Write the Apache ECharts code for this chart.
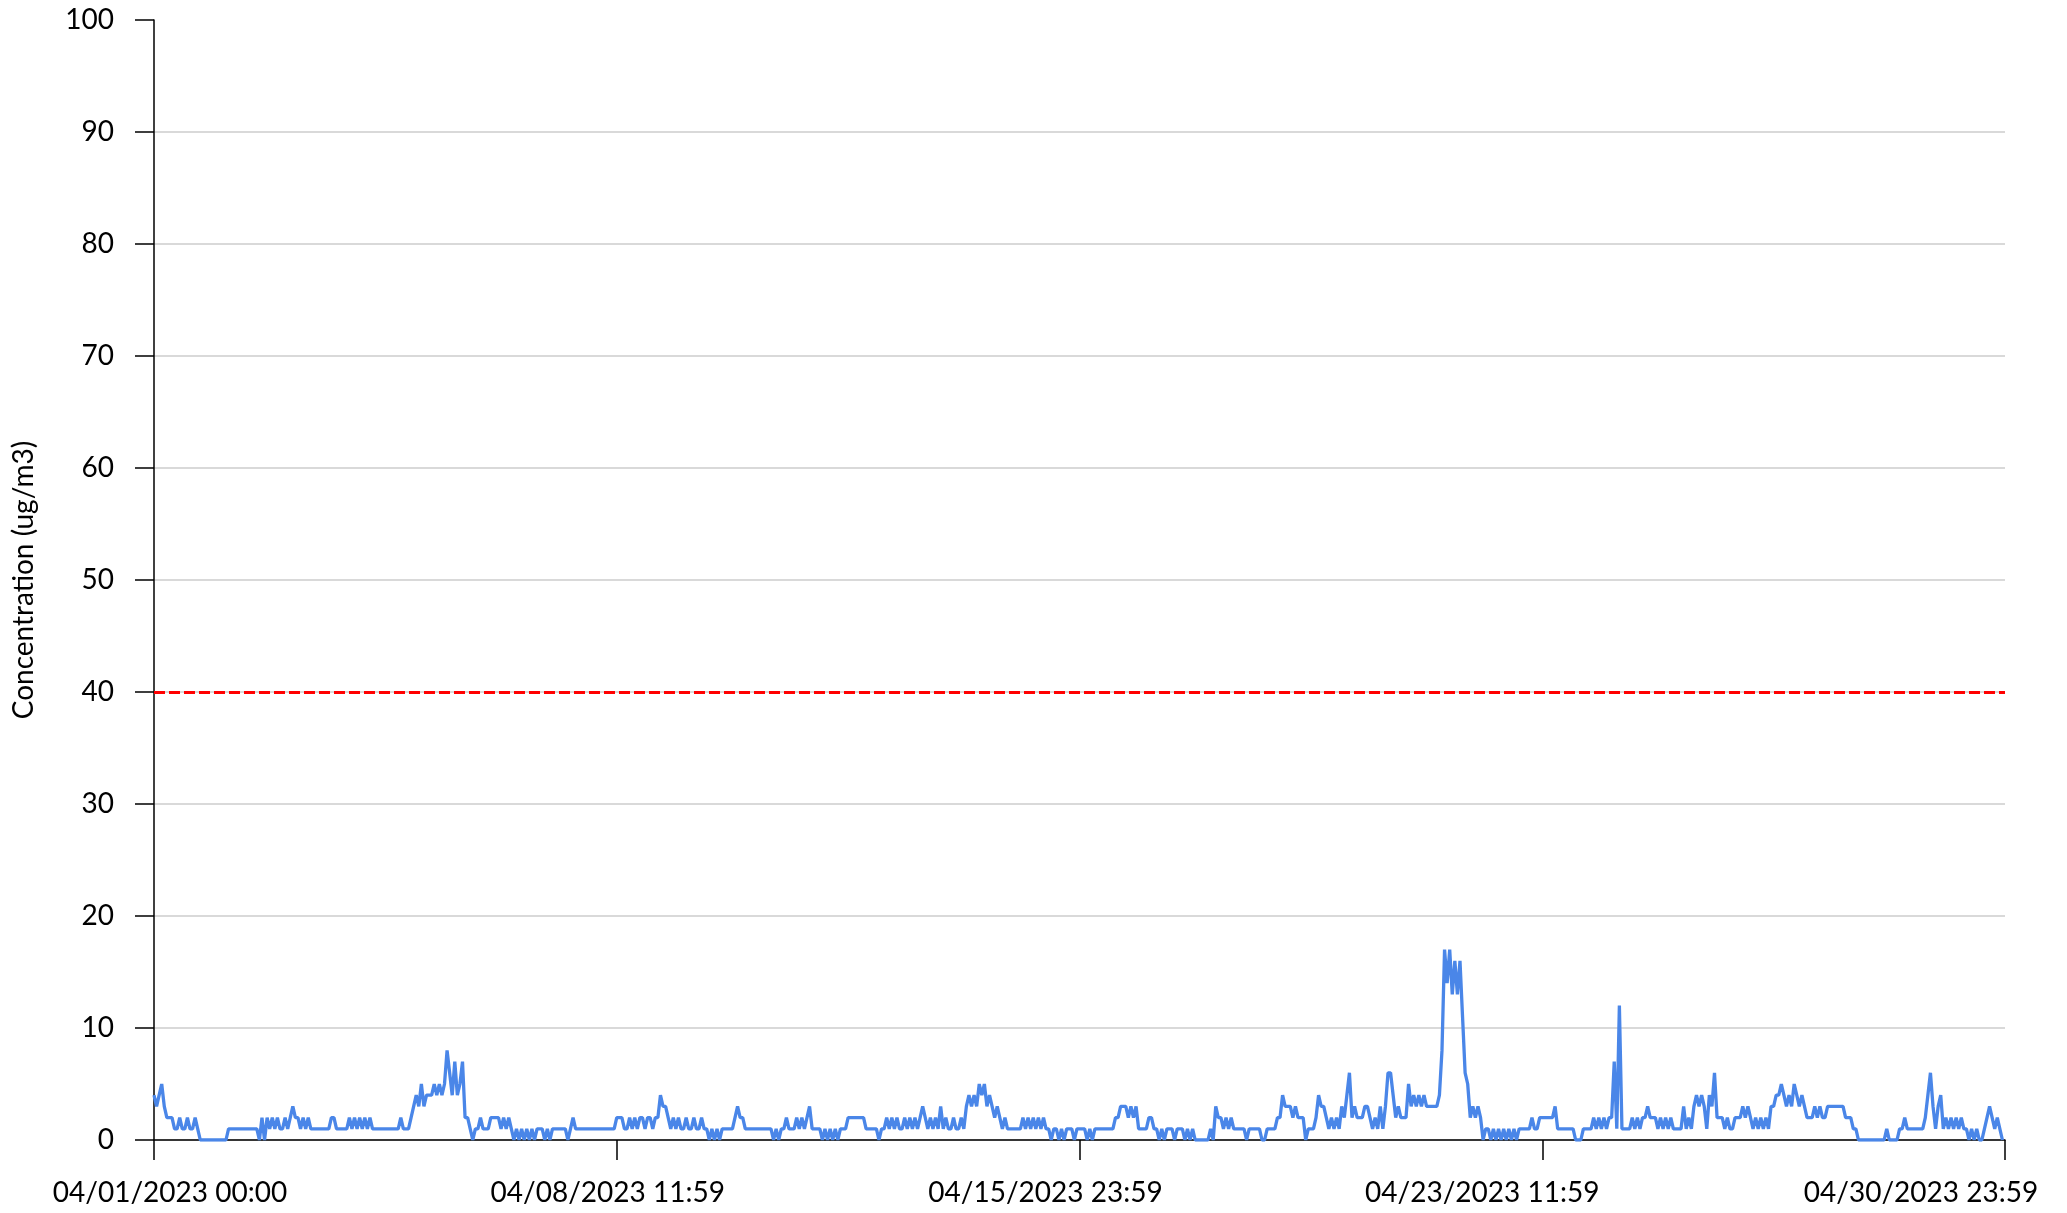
<!DOCTYPE html>
<html>
<head>
<meta charset="utf-8">
<script src="https://cdn.jsdelivr.net/npm/echarts@6/dist/echarts.min.js"></script>
<style>
html,body{margin:0;padding:0;background:#fff;}
#chart{width:2067px;height:1213px;}
</style>
</head>
<body>
<div id="chart"></div>
<script>
// Hourly concentration values, April 2023 (5-day blocks, 120 hours each)
const apr01to05 = [4,3,4,5,3,2,2,2,1,1,2,1,1,2,1,1,2,1,0,0,0,0,0,0,0,0,0,0,0,1,1,1,1,1,1,1,1,1,1,1,1,0,2,0,2,1,2,1,2,1,1,2,1,2,3,2,2,1,2,1,2,1,1,1,1,1,1,1,1,2,2,1,1,1,1,1,2,1,2,1,2,1,2,1,2,1,1,1,1,1,1,1,1,1,1,1,2,1,1,1,2,3,4,3,5,3,4,4,4,5,4,5,4,5,8,6,4,7,4,5];
const apr06to10 = [7,2,2,1,0,1,1,2,1,1,1,2,2,2,2,1,2,1,2,1,0,1,0,1,0,1,0,1,0,1,1,1,0,1,0,1,1,1,1,1,1,0,1,2,1,1,1,1,1,1,1,1,1,1,1,1,1,1,1,1,2,2,2,1,1,2,1,2,1,2,2,1,2,2,1,2,2,4,3,3,2,1,2,1,2,1,1,2,1,1,2,1,1,2,1,1,0,1,0,1,0,1,1,1,1,1,2,3,2,2,1,1,1,1,1,1,1,1,1,1];
const apr11to15 = [1,0,1,0,1,1,2,1,1,1,2,1,2,1,2,3,1,1,1,1,0,1,0,1,0,1,0,1,1,1,2,2,2,2,2,2,2,1,1,1,1,1,0,1,1,2,1,2,1,2,1,1,2,1,2,1,2,1,2,3,2,1,2,1,2,1,3,1,2,1,1,2,1,1,2,1,3,4,3,4,3,5,4,5,3,4,3,2,3,2,1,2,1,1,1,1,1,1,2,1,2,1,2,1,2,1,2,1,1,0,1,1,0,1,0,1,1,1,0,1];
const apr16to20 = [1,1,1,0,1,0,1,1,1,1,1,1,1,1,2,2,3,3,3,2,3,2,3,1,1,1,1,2,2,1,1,0,1,0,1,1,1,0,1,1,1,0,1,0,1,0,0,0,0,0,0,1,0,3,2,2,1,2,1,2,1,1,1,1,1,0,1,1,1,1,1,0,0,1,1,1,1,2,2,4,3,3,3,2,3,2,2,2,0,1,1,1,2,4,3,3,2,1,2,1,2,1,3,2,4,6,2,3,2,2,2,3,3,2,1,2,1,3,1,3];
const apr21to25 = [6,6,4,2,3,2,2,2,5,3,4,3,4,3,4,3,3,3,3,3,4,8,17,14,17,13,16,13,16,11,6,5,2,3,2,3,2,0,1,1,0,1,0,1,0,1,0,1,0,1,0,1,1,1,1,1,2,1,1,2,2,2,2,2,2,3,1,1,1,1,1,1,1,0,0,0,1,1,1,1,2,1,2,1,2,1,2,2,7,1,12,1,1,1,1,2,1,2,1,2,2,3,2,2,2,1,2,1,2,1,2,1,1,1,1,3,1,2,1,3];
const apr26to30 = [4,3,4,3,1,4,3,6,2,2,2,1,2,1,1,2,2,2,3,2,3,2,1,2,1,2,1,2,1,3,3,4,4,5,4,3,4,3,5,4,3,4,3,2,2,2,3,2,3,2,2,3,3,3,3,3,3,3,2,2,2,1,1,0,0,0,0,0,0,0,0,0,0,0,1,0,0,0,0,1,1,2,1,1,1,1,1,1,1,2,4,6,3,1,3,4,1,2,1,2,1,2,1,2,1,1,0,1,0,1,0,0,1,2,3,2,1,2,1,0];
const xTickLabels = ['04/01/2023 00:00','04/08/2023 11:59','04/15/2023 23:59','04/23/2023 11:59','04/30/2023 23:59'];
const limitValue = 40;

const values = [].concat(apr01to05, apr06to10, apr11to15, apr16to20, apr21to25, apr26to30);
const seriesData = values.map((v, i) => [i, v]);

const FONT = 'Lato';
const FS = 28;
const chart = echarts.init(document.getElementById('chart'), null, {renderer: 'canvas'});
const labelShift = ['s0','s1','s2','s3','s4'];
chart.setOption({
  animation: false,
  backgroundColor: '#ffffff',
  grid: {left: 154, right: 62, top: 20, bottom: 73, containLabel: false},
  xAxis: {
    type: 'value', min: 0, max: 720, interval: 180,
    axisLine: {show: true, onZero: false, lineStyle: {color: '#000', width: 1.5}},
    axisTick: {show: true, length: 20, lineStyle: {color: '#000', width: 1.5}},
    splitLine: {show: false},
    axisLabel: {
      margin: 39, color: '#000', fontFamily: FONT, fontSize: FS,
      formatter: function (v) {
        const k = Math.round(v / 180);
        return '{' + labelShift[k] + '|' + xTickLabels[k] + '}';
      },
      rich: {
        s0: {fontFamily: FONT, fontSize: FS, color: '#000', padding: [0, 0, 0, 32]},
        s1: {fontFamily: FONT, fontSize: FS, color: '#000', padding: [0, 18, 0, 0]},
        s2: {fontFamily: FONT, fontSize: FS, color: '#000', padding: [0, 68, 0, 0]},
        s3: {fontFamily: FONT, fontSize: FS, color: '#000', padding: [0, 120, 0, 0]},
        s4: {fontFamily: FONT, fontSize: FS, color: '#000', padding: [0, 168, 0, 0]}
      }
    }
  },
  yAxis: {
    type: 'value', min: 0, max: 100, interval: 10,
    name: 'Concentration (ug/m3)', nameLocation: 'middle', nameGap: 116, nameRotate: 90,
    nameTextStyle: {fontFamily: FONT, fontSize: FS, color: '#000'},
    axisLine: {show: true, lineStyle: {color: '#000', width: 1.5}},
    axisTick: {show: true, length: 19, lineStyle: {color: '#000', width: 1.5}},
    axisLabel: {margin: 40, color: '#000', fontFamily: FONT, fontSize: FS},
    splitLine: {show: true, showMaxLine: false, lineStyle: {color: '#cccccc', width: 1.5}}
  },
  series: [{
    type: 'line',
    data: seriesData,
    symbol: 'none',
    lineStyle: {color: '#4a86e8', width: 3.3},
    itemStyle: {color: '#4a86e8'},
    z: 3,
    markLine: {
      silent: true,
      symbol: 'none',
      label: {show: false},
      lineStyle: {color: '#ff0000', type: [11, 4], width: 3},
      data: [{yAxis: limitValue}]
    }
  }]
});
</script>
</body>
</html>
